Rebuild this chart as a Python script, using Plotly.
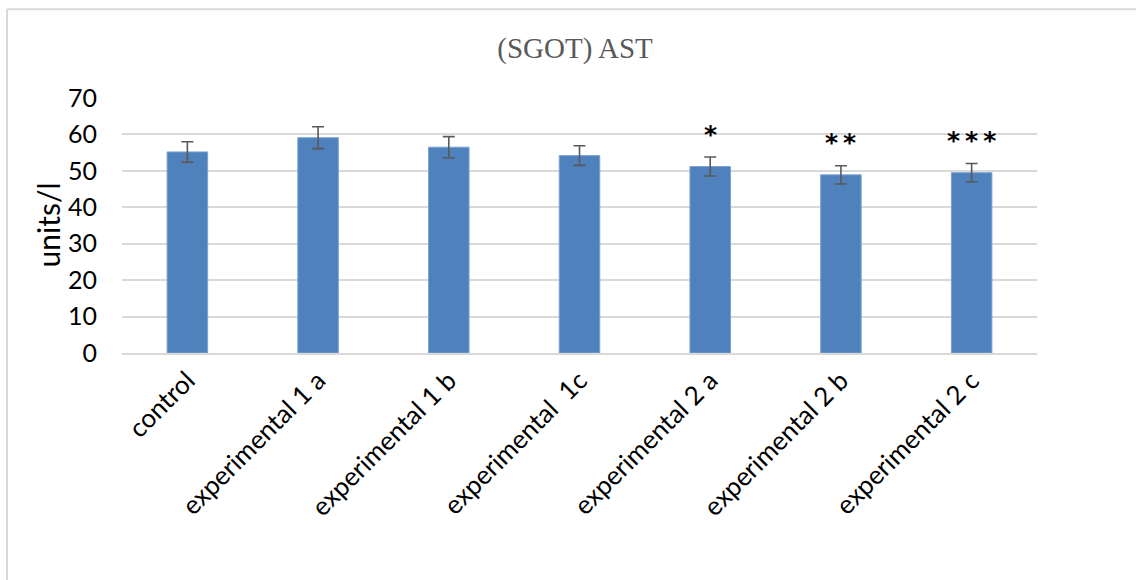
import plotly.graph_objects as go

categories = ["control", "experimental 1 a", "experimental 1 b", "experimental  1c",
              "experimental 2 a", "experimental 2 b", "experimental 2 c"]
means = [55.2, 59.1, 56.5, 54.2, 51.2, 48.9, 49.5]
errors = [2.8, 3.0, 2.9, 2.7, 2.6, 2.5, 2.5]
signif = ["", "", "", "", "*", "**", "***"]
y_ticks = [0, 10, 20, 30, 40, 50, 60, 70]

W, H = 1136, 580
L, R, T, B = 122, W - 1037, 98, H - 353.5
pw, ph = W - L - R, H - T - B

fig = go.Figure()
fig.add_trace(go.Bar(
    x=categories, y=means,
    marker=dict(color="#4F81BD", line=dict(color="#7EA2D0", width=1)),
    error_y=dict(type="data", array=errors, visible=True, color="#595959", thickness=1.6, width=6),
    width=0.31,
    hoverinfo="skip",
))

for c, m, e, s in zip(categories, means, errors, signif):
    if s:
        fig.add_annotation(x=c, y=m + e, text="<b>" + "\u2009".join(s) + "</b>", showarrow=False,
                           yanchor="middle", yshift=23,
                           font=dict(family="DejaVu Sans", size=25, color="#000000"))

fig.add_annotation(xref="paper", yref="paper", x=(47 - L) / pw, y=0.5, text="units/l", textangle=-90,
                   xanchor="center", yanchor="middle",
                   showarrow=False, font=dict(family="Lato, DejaVu Sans", size=30, color="#000000"))

px = lambda v: (v - L) / pw
py = lambda v: (H - B - v) / ph
line_style = dict(color="#D9D9D9", width=2)
fig.add_shape(type="line", xref="paper", yref="paper", x0=px(7), x1=px(1140), y0=py(9), y1=py(9), line=line_style)
fig.add_shape(type="line", xref="paper", yref="paper", x0=px(7), x1=px(7), y0=py(9), y1=py(585), line=line_style)

fig.update_layout(
    width=W, height=H,
    margin=dict(l=L, r=R, t=T, b=B, autoexpand=False),
    paper_bgcolor="white", plot_bgcolor="white",
    showlegend=False,
    title=dict(text="(SGOT) AST", x=px(575), xref="paper", xanchor="center", y=1 - 48 / H, yanchor="middle",
               font=dict(family="Liberation Serif, serif", size=29, color="#595959")),
    xaxis=dict(tickangle=-45, tickfont=dict(family="Lato, DejaVu Sans", size=26, color="#000000"),
               showline=True, linecolor="#D9D9D9", linewidth=2, showgrid=False, ticks=""),
    yaxis=dict(range=[0, 70], tickvals=y_ticks, showgrid=True, gridcolor="#D9D9D9", gridwidth=1.5,
               zeroline=False, showline=False, ticks="", ticklabelstandoff=24,
               tickfont=dict(family="Lato, DejaVu Sans", size=25, color="#000000")),
)

fig.write_html("out.html")
